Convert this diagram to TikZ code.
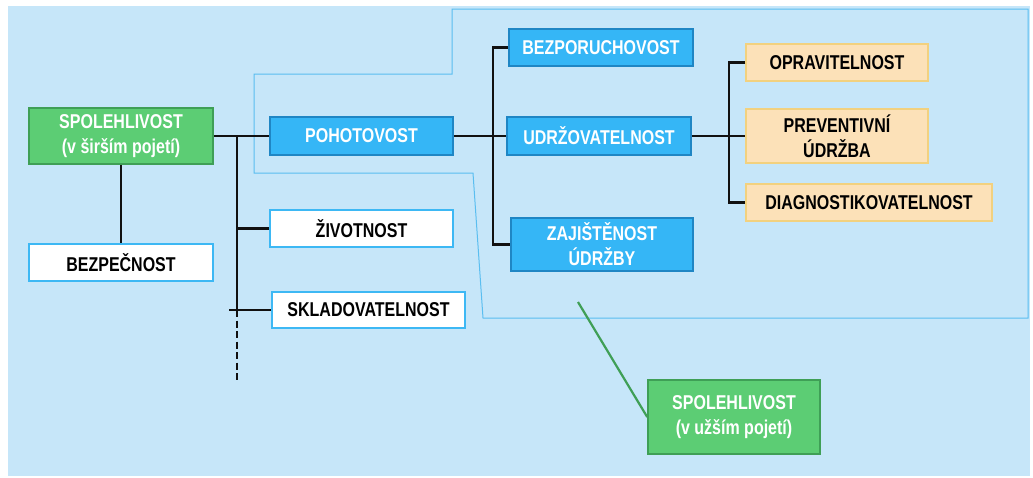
\documentclass[tikz,border=0pt]{standalone}
\usepackage{fontspec}
\newfontfamily\boxfont{Liberation Sans}[FakeStretch=0.80]
\definecolor{bgblue}{HTML}{C6E6F9}
\definecolor{framecol}{HTML}{5ABEF0}
\definecolor{bluefill}{HTML}{35B6F6}
\definecolor{blueedge}{HTML}{1F86C4}
\definecolor{greenfill}{HTML}{5CCD74}
\definecolor{greenedge}{HTML}{3F9F56}
\definecolor{creamfill}{HTML}{FCE1B8}
\definecolor{creamedge}{HTML}{F2D17F}
\definecolor{whiteedge}{HTML}{3DB8F4}
\definecolor{linecol}{HTML}{111111}
\tikzset{
  box/.style={draw, line width=1.6pt, inner sep=0pt, align=center,
    font=\boxfont\bfseries\fontsize{20}{25}\selectfont},
  bluebox/.style={box, fill=bluefill, draw=blueedge, text=white},
  greenbox/.style={box, fill=greenfill, draw=greenedge, text=white},
  whitebox/.style={box, fill=white, draw=whiteedge, text=black},
  creambox/.style={box, fill=creamfill, draw=creamedge, text=black},
  conn/.style={draw=linecol, line width=2.6pt},
  region/.style={draw=framecol, line width=1pt},
  pointer/.style={draw=greenedge, line width=2.2pt},
}
\begin{document}
\begin{tikzpicture}[x=1pt, y=-1pt]
\useasboundingbox (0,0) rectangle (1033,477);
% page background
\fill[bgblue] (8,6) rectangle (1030,476);

% outline of the narrow-sense region
\draw[region] (452,9) -- (452,74) -- (254,74) -- (254,173) -- (473,173)
  -- (483,318) -- (1028,318) -- (1028,9) -- cycle;

% coordinates of the branch lines
\coordinate (trunk) at (237,136);
\coordinate (trunkend) at (237,382);
\coordinate (busA) at (493,136);
\coordinate (busB) at (729,136);
\coordinate (tip) at (578,302);

% boxes
\node[greenbox, minimum width=184pt, minimum height=56pt] (sirsi) at (121,136)
  {SPOLEHLIVOST\\(v širším pojetí)};
\node[bluebox, minimum width=183pt, minimum height=38pt] (poh) at (361.5,136) {POHOTOVOST};
\node[whitebox, minimum width=183pt, minimum height=37pt] (ziv) at (361.5,228.5) {ŽIVOTNOST};
\node[whitebox, minimum width=184pt, minimum height=37pt] (bezp) at (121,262.5) {BEZPEČNOST};
\node[whitebox, minimum width=193pt, minimum height=36pt] (sklad) at (368.5,310) {SKLADOVATELNOST};
\node[bluebox, minimum width=184pt, minimum height=37pt] (bezpor) at (601,47.5) {BEZPORUCHOVOST};
\node[bluebox, minimum width=184pt, minimum height=38pt] (udrz) at (599,136) {UDRŽOVATELNOST};
\node[bluebox, minimum width=182pt, minimum height=53pt] (zaj) at (602,244.5) {ZAJIŠTĚNOST\\ÚDRŽBY};
\node[creambox, minimum width=182pt, minimum height=37pt] (oprav) at (837,62.5) {OPRAVITELNOST};
\node[creambox, minimum width=182pt, minimum height=54pt] (prev) at (837,136) {PREVENTIVNÍ\\ÚDRŽBA};
\node[creambox, minimum width=246pt, minimum height=37pt] (diag) at (869,202.5) {DIAGNOSTIKOVATELNOST};
\node[greenbox, minimum width=172pt, minimum height=74pt] (uzsi) at (734,417)
  {SPOLEHLIVOST\\(v užším pojetí)};

% connectors
\draw[conn] (sirsi.east) -- (poh.west);
\draw[conn] (sirsi.south) -- (bezp.north);
\draw[conn] (trunk) -- (trunk |- sklad.west);
\draw[conn, line width=2.2pt, dash pattern=on 7pt off 3.5pt] (trunk |- sklad.west) -- (trunkend);
\draw[conn] (trunk |- ziv.west) -- (ziv.west);
\draw[conn] ([xshift=-8pt]trunk |- sklad.west) -- (sklad.west);
\draw[conn] (poh.east) -- (udrz.west);
\draw[conn] (bezpor.west) -- (bezpor.west -| busA) -- (zaj.west -| busA) -- (zaj.west);
\draw[conn] (udrz.east) -- (prev.west);
\draw[conn] (oprav.west) -- (oprav.west -| busB) -- (diag.west -| busB) -- (diag.west);
\draw[pointer] (tip) -- (uzsi.west);
\end{tikzpicture}
\end{document}
